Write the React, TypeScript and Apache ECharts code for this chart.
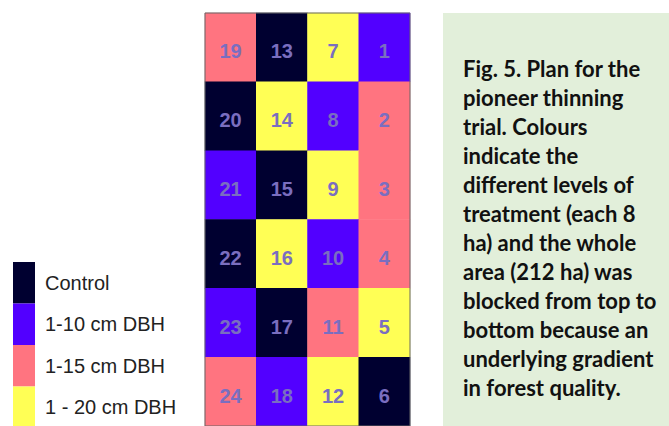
import React, { useEffect, useRef } from "react";
import * as echarts from "echarts";

// Treatment levels (legend order, top to bottom)
const treatments = ["Control", "1-10 cm DBH", "1-15 cm DBH", "1 - 20 cm DBH"];
const treatmentColors = ["#000030", "#5200ff", "#ff7480", "#ffff55"];

// Plot columns (left to right) and rows (top to bottom)
const columns = ["c1", "c2", "c3", "c4"];
const rows = ["r1", "r2", "r3", "r4", "r5", "r6"];

// Plot numbers per row (left to right)
const plotNumbers = [
  [19, 13, 7, 1],
  [20, 14, 8, 2],
  [21, 15, 9, 3],
  [22, 16, 10, 4],
  [23, 17, 11, 5],
  [24, 18, 12, 6],
];

// Treatment index per plot (0 Control, 1 1-10, 2 1-15, 3 1-20)
const plotTreatments = [
  [2, 0, 3, 1],
  [0, 3, 1, 2],
  [1, 0, 3, 2],
  [0, 3, 1, 2],
  [1, 0, 2, 3],
  [2, 1, 3, 0],
];

const captionLines = [
  "Fig. 5. Plan for the",
  "pioneer thinning",
  "trial. Colours",
  "indicate the",
  "different levels of",
  "treatment (each 8",
  "ha) and the whole",
  "area (212 ha) was",
  "blocked from top to",
  "bottom because an",
  "underlying gradient",
  "in forest quality.",
];

export default function App() {
  const ref = useRef<HTMLDivElement>(null);
  useEffect(() => {
    if (!ref.current) return;
    const chart = echarts.init(ref.current, null, { renderer: "svg" });
    const data: any[] = [];
    rows.forEach((_, r) => {
      columns.forEach((_, c) => {
        data.push([c, r, plotTreatments[r][c], plotNumbers[r][c]]);
      });
    });
    chart.setOption({
      animation: false,
      backgroundColor: "#ffffff",
      grid: {
        left: 205,
        top: 13,
        width: 205,
        height: 414,
        show: true,
        borderColor: "#666666",
        borderWidth: 1,
        backgroundColor: "transparent",
        z: 10,
      },
      xAxis: { type: "category", data: columns, show: false },
      yAxis: { type: "category", data: rows, inverse: true, show: false },
      visualMap: {
        type: "piecewise",
        dimension: 2,
        seriesIndex: 0,
        inverse: true,
        orient: "vertical",
        left: 13,
        top: 262,
        itemWidth: 22,
        itemHeight: 41.5,
        itemGap: 0,
        itemSymbol: "rect",
        textGap: 10,
        selectedMode: false,
        padding: 0,
        textStyle: {
          color: "#222222",
          fontSize: 20,
          fontFamily: "Liberation Sans, Arial, sans-serif",
        },
        pieces: treatments.map((t, i) => ({
          value: i,
          label: t,
          color: treatmentColors[i],
        })),
      },
      graphic: [
        {
          type: "rect",
          shape: { x: 443, y: 13, width: 240, height: 420 },
          style: { fill: "#e2efda" },
          z: -1,
        },
        {
          type: "text",
          x: 463,
          y: 53.5,
          style: {
            text: captionLines.join("\n"),
            fill: "#111111",
            font: "bold 22px Lato, 'Noto Sans', sans-serif",
            lineHeight: 29,
            verticalAlign: "top",
          },
        },
      ],
      series: [
        {
          type: "heatmap",
          data,
          itemStyle: { borderWidth: 0 },
          label: {
            show: true,
            formatter: (p: any) => String(p.value[3]),
            color: "#7a6ec0",
            fontSize: 20,
            fontWeight: "bold",
            offset: [0, 4],
            fontFamily: "Liberation Sans, Arial, sans-serif",
          },
          emphasis: { disabled: true },
        },
      ],
    });
    return () => chart.dispose();
  }, []);
  return (
    <div
      ref={ref}
      style={{ position: "fixed", left: 0, top: 0, width: 669, height: 426 }}
    />
  );
}
